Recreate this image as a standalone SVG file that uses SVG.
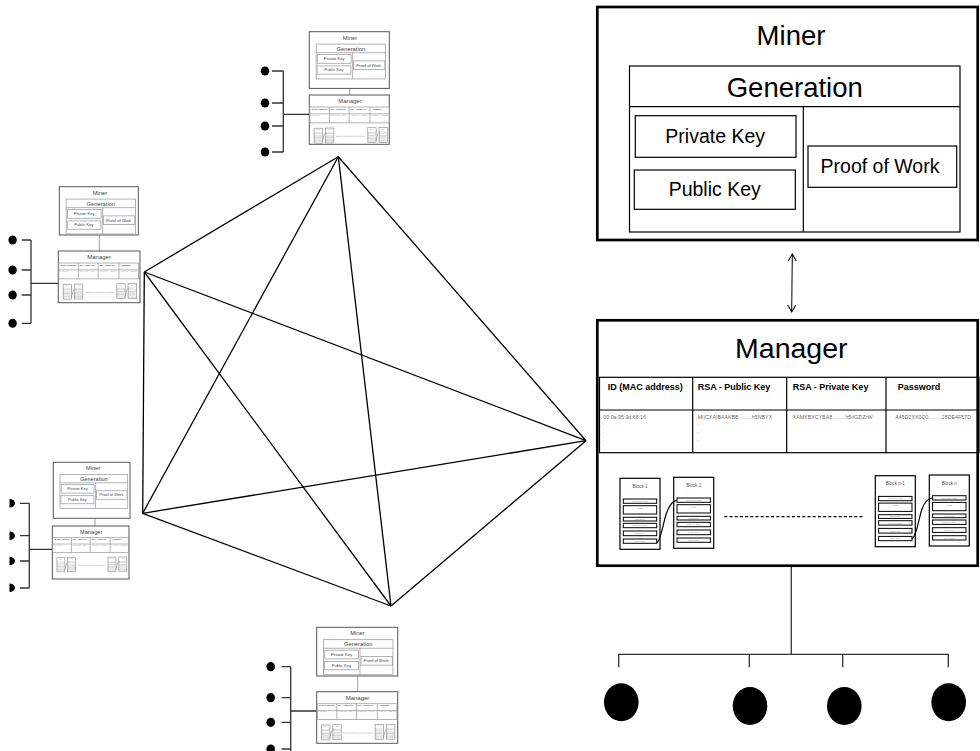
<svg xmlns="http://www.w3.org/2000/svg" xmlns:xlink="http://www.w3.org/1999/xlink" width="980" height="751" viewBox="0 0 980 751">
  <style>
    text { font-family: "Liberation Sans", Arial, sans-serif; stroke: none; }
    .box { fill: none; }
    .hdr { font-weight: bold; font-size: 9px; }
    .data { font-size: 5.3px; fill-opacity: 0.65; }
    .tiny { font-size: 2.4px; fill-opacity: 0.5; text-anchor: middle; }
    .btitle { font-size: 4.6px; fill-opacity: 0.75; text-anchor: middle; }
    .row { stroke-width: 1; }
    .frame { fill: #fff; stroke: #000; stroke-width: 2.7; }
    .mini-frame { fill: #fff; stroke: #555; stroke-width: 1; }
    .edge { stroke: #000; stroke-width: 1.3; fill: none; }
    .wire { stroke: #333; stroke-width: 1.3; fill: none; }
    .link { stroke: #888; stroke-width: 0.8; fill: none; }
    .dot { fill: #000; }
  </style>
  <defs>
    <marker id="openHead" markerUnits="userSpaceOnUse" markerWidth="10" markerHeight="10" refX="7" refY="4" orient="auto-start-reverse">
      <path d="M0,0 L7,4 L0,8" fill="none" stroke="#000" stroke-width="1"/>
    </marker>

    <!-- key generation panel, drawn at full size with its origin at the frame corner -->
    <g id="minerBody">
      <text x="194" y="38" font-size="27.5" text-anchor="middle">Miner</text>
      <rect class="box" x="32.5" y="59" width="330.5" height="166"/>
      <line x1="32.5" y1="99.7" x2="363" y2="99.7"/>
      <line x1="206.3" y1="99.7" x2="206.3" y2="225"/>
      <text x="197.75" y="89.7" font-size="27.5" text-anchor="middle">Generation</text>
      <rect class="box" x="38.3" y="108.7" width="160.7" height="41.6"/>
      <text x="118.2" y="136.3" font-size="19.5" text-anchor="middle">Private Key</text>
      <rect class="box" x="37.3" y="163" width="161" height="39.3"/>
      <text x="117.7" y="189" font-size="19.5" text-anchor="middle">Public Key</text>
      <rect class="box" x="211" y="139" width="148.7" height="41.3"/>
      <text x="283" y="166.3" font-size="19.5" text-anchor="middle">Proof of Work</text>
    </g>

    <!-- one block of the chain -->
    <g id="block">
      <rect class="box" x="0" y="0" width="40" height="71"/>
      <rect class="box row" x="3.3" y="20.7" width="33.4" height="4.3"/>
      <text class="tiny" x="20" y="23.7">Previous Hash</text>
      <rect class="box row" x="3.3" y="27.4" width="33.4" height="8.3"/>
      <text class="tiny" x="20" y="30.6">Data</text>
      <rect class="box row" x="3.3" y="39" width="33.4" height="3.7"/>
      <text class="tiny" x="20" y="41.7">Signature</text>
      <rect class="box row" x="3.3" y="45" width="33.4" height="4.4"/>
      <text class="tiny" x="20" y="48">Proof of Work</text>
      <rect class="box row" x="3.3" y="52.7" width="33.4" height="4.7"/>
      <text class="tiny" x="20" y="55.9">Public Key</text>
      <rect class="box row" x="3.3" y="60.7" width="33.4" height="4.3"/>
      <text class="tiny" x="20" y="63.7">Self Hash</text>
    </g>

    <!-- account table and local chain -->
    <g id="managerBody">
      <text x="194.3" y="38.3" font-size="28.5" text-anchor="middle">Manager</text>
      <rect class="box" x="2.5" y="57.3" width="379.5" height="75.4"/>
      <line x1="2.5" y1="90" x2="382" y2="90"/>
      <line x1="95.7" y1="57.3" x2="95.7" y2="132.7"/>
      <line x1="189.7" y1="57.3" x2="189.7" y2="132.7"/>
      <line x1="289" y1="57.3" x2="289" y2="132.7"/>
      <text class="hdr" x="10.7" y="69.5">ID (MAC address)</text>
      <text class="hdr" x="100.7" y="69.5">RSA - Public Key</text>
      <text class="hdr" x="195.7" y="69.5">RSA - Private Key</text>
      <text class="hdr" x="300.7" y="69.5">Password</text>
      <text class="data" x="6.3" y="98.5">00:0a:95:9d:68:16</text>
      <text class="data" x="100.7" y="98.5">MIICXAIBAAKBB.........h5NBYX</text>
      <text class="data" x="195.7" y="98.5">XAMKBXCYBA8.........h5iIGZlZrW</text>
      <text class="data" x="298.3" y="98.5">A45D2XX0Q0.........28DE4F57D</text>
      <text class="data" x="6.3" y="105">.</text>
      <text class="data" x="6.3" y="113">.</text>
      <text class="data" x="6.3" y="121">.</text>
      <text class="data" x="100.7" y="105">.</text>
      <text class="data" x="100.7" y="113">.</text>
      <text class="data" x="100.7" y="121">.</text>

      <use xlink:href="#block" href="#block" transform="translate(23,158.3)"/>
      <text class="btitle" x="43" y="168">Block 1</text>
      <use xlink:href="#block" href="#block" transform="translate(76.7,157.3)"/>
      <text class="btitle" x="96.7" y="167">Block 2</text>
      <use xlink:href="#block" href="#block" transform="translate(278.3,155.7)"/>
      <text class="btitle" x="298.3" y="165.4">Block n-1</text>
      <use xlink:href="#block" href="#block" transform="translate(332.3,155)"/>
      <text class="btitle" x="352.3" y="164.7">Block n</text>

      <path class="box" d="M59.7,222.7 C64,221 66,203 69.5,193 C72.5,185 75.5,180.5 79.7,180.3"/>
      <path class="box" d="M315,218.7 C319.5,217 321.5,199 325,189 C328,181 331,178.2 335.6,178"/>
      <line x1="127.3" y1="196.7" x2="265.7" y2="196.7" stroke-dasharray="3 2.2"/>
    </g>
  </defs>

  <rect width="980" height="751" fill="#fff"/>

  <!-- connectors -->
  <g id="connectors">
    <!-- mesh between the five peers -->
    <g id="mesh" class="edge">
      <line x1="338.3" y1="156.7" x2="144.3" y2="272"/>
      <line x1="338.3" y1="156.7" x2="142.7" y2="513.3"/>
      <line x1="338.3" y1="156.7" x2="391" y2="606"/>
      <line x1="338.3" y1="156.7" x2="586" y2="440.7"/>
      <line x1="144.3" y1="272" x2="142.7" y2="513.3"/>
      <line x1="144.3" y1="272" x2="391" y2="606"/>
      <line x1="144.3" y1="272" x2="586" y2="440.7"/>
      <line x1="142.7" y1="513.3" x2="391" y2="606"/>
      <line x1="142.7" y1="513.3" x2="586" y2="440.7"/>
      <line x1="391" y1="606" x2="586" y2="440.7"/>
    </g>

    <!-- miner to manager -->
    <line x1="792.3" y1="254" x2="791.7" y2="312" stroke="#000" stroke-width="1" marker-start="url(#openHead)" marker-end="url(#openHead)"/>
    <line class="link" x1="349.7" y1="88.3" x2="349.7" y2="95"/>
    <line class="link" x1="99.3" y1="235" x2="99.3" y2="251"/>
    <line class="link" x1="95" y1="518.3" x2="95" y2="526"/>
    <line class="link" x1="357.7" y1="676" x2="357.7" y2="691.7"/>

    <!-- manager to its clients -->
    <path class="wire" d="M791.3,567 V654.3 M618.7,667.3 V654.3 H948.3 V667.3 M749.3,654.3 V667.3 M842.7,654.3 V667.3"/>
    <path class="wire" d="M309.3,114.3 H283.3 M283.3,71 V152 M272,71 H283.3 M272,103 H283.3 M272,126 H283.3 M272,152 H283.3"/>
    <path class="wire" d="M58.3,283.3 H31 M31,240 V323.3 M21.7,240 H31 M21.7,270 H31 M21.7,295 H31 M21.7,323.3 H31"/>
    <path class="wire" d="M52.3,549.3 H29.3 M29.3,503.3 V588 M20,503.3 H29.3 M20,535.7 H29.3 M20,561 H29.3 M20,588 H29.3"/>
    <path class="wire" d="M316.7,711 H290.7 M290.7,666.7 V751 M281.7,666.7 H290.7 M281.7,697.7 H290.7 M281.7,722.3 H290.7 M281.7,749 H290.7"/>
  </g>

  <!-- main node: miner -->
  <g id="miner-main">
    <rect class="frame" x="597.3" y="7" width="380.4" height="233"/>
    <use xlink:href="#minerBody" href="#minerBody" transform="translate(597,7)" stroke="#000" stroke-width="1.2" fill="#000"/>
  </g>

  <!-- main node: manager -->
  <g id="manager-main">
    <rect class="frame" x="597.3" y="320.3" width="380.4" height="245.4"/>
    <use xlink:href="#managerBody" href="#managerBody" transform="translate(597,320)" stroke="#000" stroke-width="1.2" fill="#000"/>
  </g>

  <!-- peer nodes -->
  <g id="peer-top">
    <rect class="mini-frame" x="309.3" y="31.7" width="80" height="56.7"/>
    <use xlink:href="#minerBody" href="#minerBody" transform="translate(309.3,31.7) scale(0.21)" stroke="#999" stroke-width="3.5" fill="#444"/>
    <rect class="mini-frame" x="309.3" y="95" width="80" height="49.3"/>
    <use xlink:href="#managerBody" href="#managerBody" transform="translate(309.3,95) scale(0.21)" stroke="#999" stroke-width="3.5" fill="#444"/>
  </g>
  <g id="peer-left-upper">
    <rect class="mini-frame" x="59.3" y="186.7" width="79" height="48.3"/>
    <use xlink:href="#minerBody" href="#minerBody" transform="translate(59.3,186.7) scale(0.21)" stroke="#999" stroke-width="3.5" fill="#444"/>
    <rect class="mini-frame" x="58.3" y="251" width="81.7" height="51.7"/>
    <use xlink:href="#managerBody" href="#managerBody" transform="translate(58.3,251) scale(0.21)" stroke="#999" stroke-width="3.5" fill="#444"/>
  </g>
  <g id="peer-left-lower">
    <rect class="mini-frame" x="53.3" y="462.3" width="76.7" height="56"/>
    <use xlink:href="#minerBody" href="#minerBody" transform="translate(53.3,462.3) scale(0.205)" stroke="#999" stroke-width="3.5" fill="#444"/>
    <rect class="mini-frame" x="52.3" y="526" width="76.7" height="53"/>
    <use xlink:href="#managerBody" href="#managerBody" transform="translate(52.3,526) scale(0.2)" stroke="#999" stroke-width="3.5" fill="#444"/>
  </g>
  <g id="peer-bottom">
    <rect class="mini-frame" x="316.7" y="627.3" width="81" height="48.7"/>
    <use xlink:href="#minerBody" href="#minerBody" transform="translate(316.7,627.3) scale(0.21)" stroke="#999" stroke-width="3.5" fill="#444"/>
    <rect class="mini-frame" x="316.7" y="691.7" width="81" height="51.6"/>
    <use xlink:href="#managerBody" href="#managerBody" transform="translate(316.7,691.7) scale(0.21)" stroke="#999" stroke-width="3.5" fill="#444"/>
  </g>

  <!-- client nodes -->
  <g id="client-1"><ellipse class="dot" cx="621.3" cy="702.3" rx="17.3" ry="19"/></g>
  <g id="client-2"><ellipse class="dot" cx="750" cy="706" rx="17.3" ry="19"/></g>
  <g id="client-3"><ellipse class="dot" cx="844.3" cy="706" rx="17.3" ry="19"/></g>
  <g id="client-4"><ellipse class="dot" cx="948.7" cy="702.3" rx="17.3" ry="19"/></g>

  <g id="top-client-1"><ellipse class="dot" cx="265" cy="71" rx="4.3" ry="4.6"/></g>
  <g id="top-client-2"><ellipse class="dot" cx="265" cy="103" rx="4.3" ry="4.6"/></g>
  <g id="top-client-3"><ellipse class="dot" cx="265" cy="126" rx="4.3" ry="4.6"/></g>
  <g id="top-client-4"><ellipse class="dot" cx="265" cy="152" rx="4.3" ry="4.6"/></g>

  <g id="left-upper-client-1"><ellipse class="dot" cx="12.6" cy="240" rx="4.2" ry="4.5"/></g>
  <g id="left-upper-client-2"><ellipse class="dot" cx="12.6" cy="270" rx="4.2" ry="4.5"/></g>
  <g id="left-upper-client-3"><ellipse class="dot" cx="12.6" cy="295" rx="4.2" ry="4.5"/></g>
  <g id="left-upper-client-4"><ellipse class="dot" cx="12.6" cy="323.3" rx="4.2" ry="4.5"/></g>

  <g id="left-lower-client-1"><path class="dot" d="M9.5,499 A5.5,4.3 0 0 1 9.5,507.6 Z"/></g>
  <g id="left-lower-client-2"><path class="dot" d="M9.5,531.4 A5.5,4.3 0 0 1 9.5,540 Z"/></g>
  <g id="left-lower-client-3"><path class="dot" d="M9.5,556.7 A5.5,4.3 0 0 1 9.5,565.3 Z"/></g>
  <g id="left-lower-client-4"><path class="dot" d="M9.5,583.4 A5.5,4.3 0 0 1 9.5,592 Z"/></g>

  <g id="bottom-client-1"><ellipse class="dot" cx="270.7" cy="666.7" rx="4.3" ry="4.6"/></g>
  <g id="bottom-client-2"><ellipse class="dot" cx="270.7" cy="697.7" rx="4.3" ry="4.6"/></g>
  <g id="bottom-client-3"><ellipse class="dot" cx="270.7" cy="722.3" rx="4.3" ry="4.6"/></g>
  <g id="bottom-client-4"><ellipse class="dot" cx="270.7" cy="749" rx="4.3" ry="4.6"/></g>
</svg>
